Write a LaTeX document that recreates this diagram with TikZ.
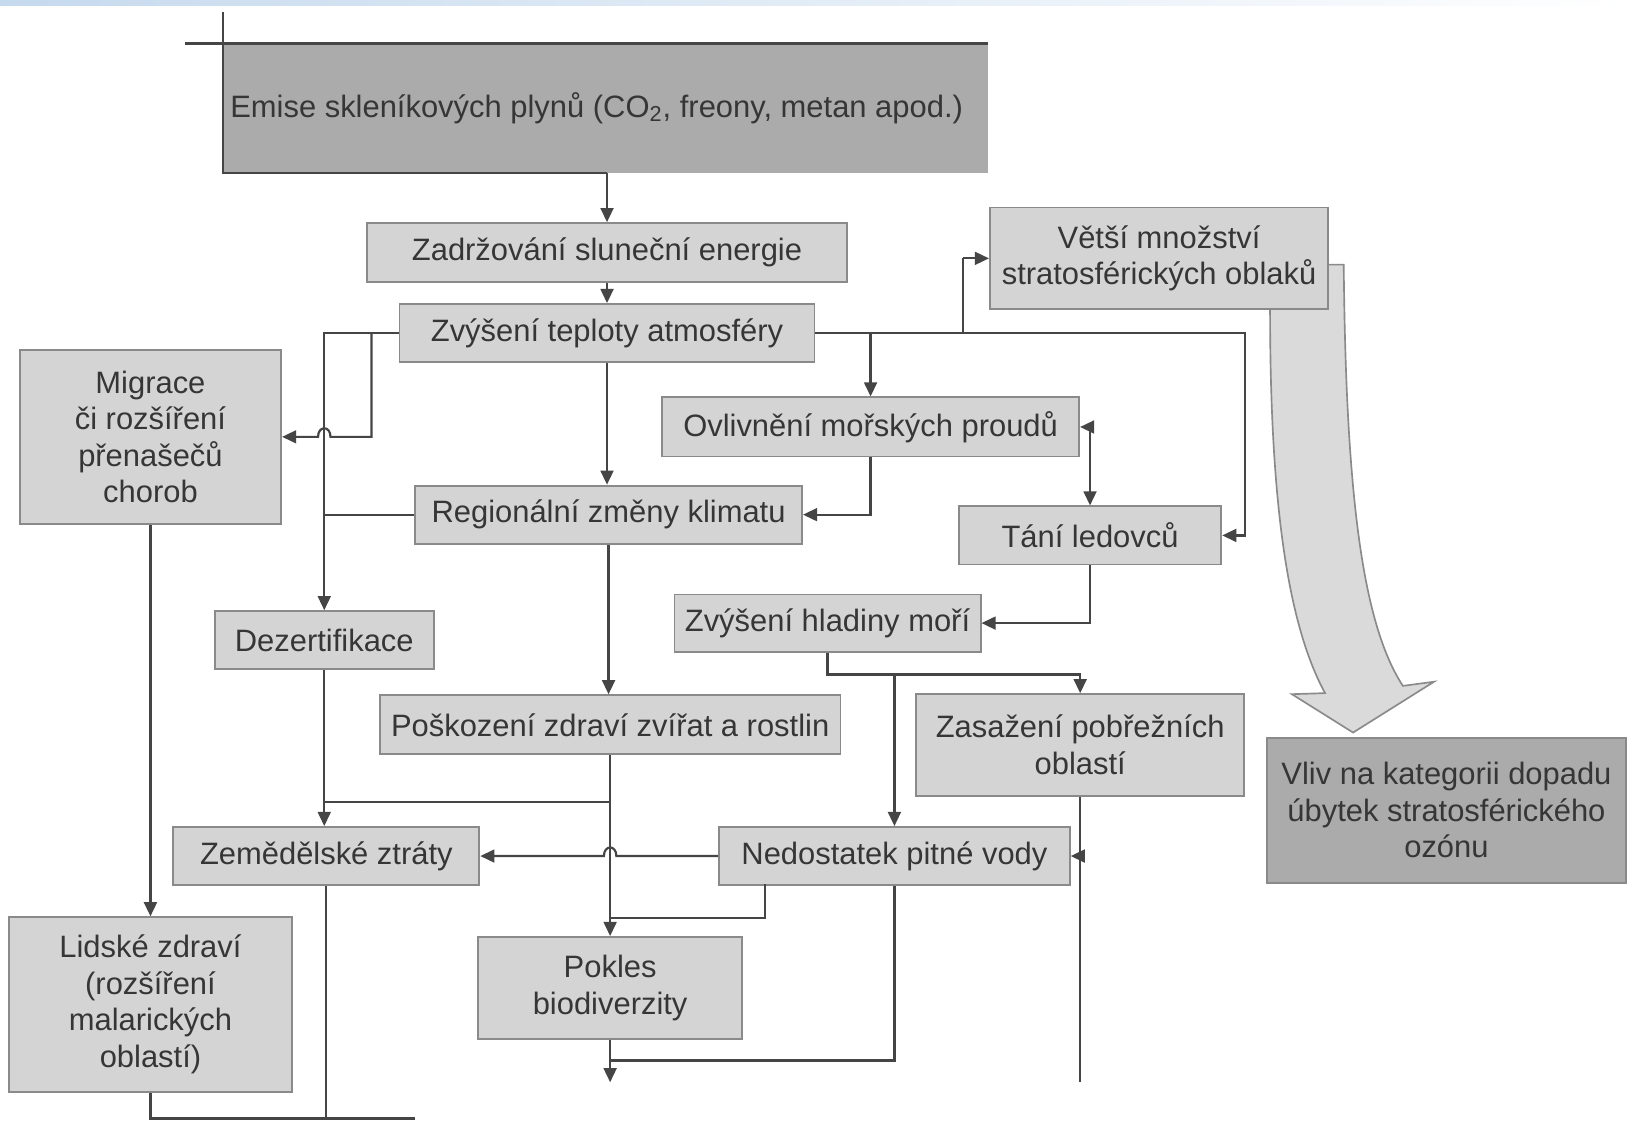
\documentclass[tikz,border=0pt]{standalone}
\usepackage{fontspec}
\setmainfont{Liberation Sans}
\usetikzlibrary{arrows.meta}
\definecolor{boxfill}{HTML}{D4D4D4}
\definecolor{darkfill}{HTML}{ABABAB}
\definecolor{boxline}{HTML}{8A8A8A}
\definecolor{linec}{HTML}{454545}
\definecolor{txt}{HTML}{363636}
\definecolor{bandfill}{HTML}{DADADA}
\definecolor{topblue}{HTML}{C6DAEE}
\begin{document}
\begin{tikzpicture}[x=0.5pt,y=-0.5pt,
  font=\fontsize{14.9}{17.6}\selectfont,
  box/.style={draw=boxline, fill=boxfill, line width=0.9pt, text=txt, inner sep=0pt, align=center},
  dbox/.style={box, fill=darkfill},
  conn/.style={draw=linec, line width=1.05pt},
  arr/.style={conn, -{Triangle[length=6.8pt,width=6.2pt]}},
  arrb/.style={conn, {Triangle[length=6.8pt,width=6.2pt]}-{Triangle[length=6.8pt,width=6.2pt]}},
  bigarrow/.style={draw=boxline, fill=bandfill, line width=0.8pt, line join=miter}]
\useasboundingbox (0,0) rectangle (1568,1080);
\fill[white] (0,0) rectangle (1568,1080);
\shade[left color=topblue, right color=white] (0,0) rectangle (1568,5);

% big curved arrow (drawn first, box covers its top)
\draw[bigarrow] (1224,255) -- (1295,255) .. controls (1297,470) and (1312,600) .. (1352,661)
  -- (1382,657) -- (1304,706) -- (1245,669) -- (1277,668)
  .. controls (1240,600) and (1224,480) .. (1224,298) -- cycle;

% top box
\fill[darkfill] (215,42) rectangle (952,167);
\node[text=txt, inner sep=0pt] (emise) at (575,104) {Emise skleníkových plynů (CO\textsubscript{2}, freony, metan apod.)};
\draw[linec, line width=1.6pt] (178,42) -- (952,42);
\draw[linec, line width=1pt] (215,12) -- (215,167) -- (585,167);
\coordinate (eb) at (585,167);

% boxes
\node[box, minimum width=463*0.5pt, minimum height=57*0.5pt] (zadr) at (585,243.5) {Zadržování sluneční energie};
\node[box, minimum width=400*0.5pt, minimum height=56*0.5pt] (zvys) at (585,321) {Zvýšení teploty atmosféry};
\node[box, minimum width=252*0.5pt, minimum height=168*0.5pt] (mig) at (145,421) {Migrace\\ či rozšíření\\ přenašečů\\ chorob};
\node[box, minimum width=326*0.5pt, minimum height=98*0.5pt] (vets) at (1117,249) {Větší množství\\ stratosférických oblaků};
\node[box, minimum width=402*0.5pt, minimum height=57*0.5pt] (ovl) at (839,411.5) {Ovlivnění mořských proudů};
\node[box, minimum width=373*0.5pt, minimum height=56*0.5pt] (reg) at (586.5,496) {Regionální změny klimatu};
\node[box, minimum width=253*0.5pt, minimum height=56*0.5pt] (tani) at (1050.5,516) {Tání ledovců};
\node[box, minimum width=211*0.5pt, minimum height=56*0.5pt] (dez) at (312.5,617) {Dezertifikace};
\node[box, minimum width=295*0.5pt, minimum height=55*0.5pt] (hlad) at (797.5,600.5) {Zvýšení hladiny moří};
\node[box, minimum width=444*0.5pt, minimum height=57*0.5pt] (posk) at (588,698.5) {Poškození zdraví zvířat a rostlin};
\node[box, minimum width=316*0.5pt, minimum height=98*0.5pt] (zas) at (1041,718) {Zasažení pobřežních\\ oblastí};
\node[dbox, minimum width=346*0.5pt, minimum height=140*0.5pt] (vliv) at (1394,781) {Vliv na kategorii dopadu\\ úbytek stratosférického\\ ozónu};
\node[box, minimum width=295*0.5pt, minimum height=56*0.5pt] (zem) at (314.5,825) {Zemědělské ztráty};
\node[box, minimum width=338*0.5pt, minimum height=56*0.5pt] (ned) at (862,825) {Nedostatek pitné vody};
\node[box, minimum width=254*0.5pt, minimum height=98*0.5pt] (pok) at (588,952) {Pokles\\ biodiverzity};
\node[box, minimum width=273*0.5pt, minimum height=168*0.5pt] (lid) at (145,968) {Lidské zdraví\\ (rozšíření\\ malarických\\ oblastí)};

% junction / free-end coordinates
\coordinate (b1) at (358,321);
\coordinate (tr) at (1200,321);
\coordinate (hj) at (797.5,650);
\coordinate (pj) at (588,773);
\coordinate (nb) at (737,852);
\coordinate (zend) at (1041,1043);
\coordinate (pend) at (588,1043);
\coordinate (bend) at (400,1078);

% connectors
\draw[arr] (eb) -- (eb |- zadr.north);
\draw[arr] (zadr.south) -- (zvys.north);
\draw[arr] (zvys.south) -- (zvys.south |- reg.north);
\draw[arr] (reg.south) -- (reg.south |- posk.north);
\draw[arr] (posk.south) -- (pok.north);
\draw[arr] (zvys.west) -| (dez.north);
\draw[arr] (b1) -- (358,421) -- (318.5,421) .. controls (318.5,410) and (306.5,410) .. (306.5,421) -- (mig.east);
\draw[conn] (reg.west) -- (dez.north |- reg.west);
\draw[arr] (zvys.east) -- (tr) |- (tani.east);
\draw[arr] (vets.west -| 928,0) |- (vets.west);
\draw[conn] (928,321) -- (928,249);
\draw[arr] (ovl.north |- zvys.east) -- (ovl.north);
\draw[arr] (ovl.south) |- (reg.east);
\draw[arrb] (ovl.east) -| (tani.north);
\draw[arr] (tani.south) |- (hlad.east);
\draw[arr] (hlad.south) -- (hj) -| (zas.north);
\draw[arr] (ned.north |- hj) -- (ned.north);
\draw[conn] (zas.south) -- (zend);
\draw[arr] (zas.south |- ned.east) -- (ned.east);
\draw[arr] (dez.south) -- (dez.south |- zem.north);
\draw[conn] (pj) -- (dez.south |- pj);
\draw[arr] (ned.west) -- (594,825) .. controls (594,814) and (582,814) .. (582,825) -- (zem.east);
\draw[conn] (nb) |- (pok.north |- 0,885);
\draw[conn] (ned.south) |- (pok.south |- 0,1022);
\draw[arr] (pok.south) -- (pend);
\draw[arr] (mig.south) -- (lid.north);
\draw[conn] (lid.south) |- (bend);
\draw[conn] (zem.south) -- (zem.south |- bend);
\end{tikzpicture}
\end{document}
